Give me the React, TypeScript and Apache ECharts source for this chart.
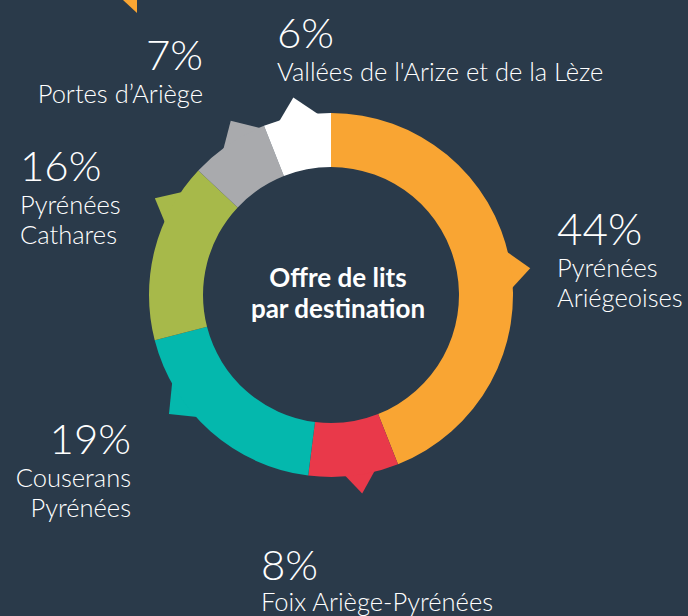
import React, { useEffect, useRef } from "react";
import * as echarts from "echarts";

// ---- data ----
const NAMES = [
  "Pyrénées Ariégeoises",
  "Foix Ariège-Pyrénées",
  "Couserans Pyrénées",
  "Pyrénées Cathares",
  "Portes d’Ariège",
  "Vallées de l'Arize et de la Lèze",
];
const LABEL_LINES = [
  ["Pyrénées", "Ariégeoises"],
  ["Foix Ariège-Pyrénées"],
  ["Couserans", "Pyrénées"],
  ["Pyrénées", "Cathares"],
  ["Portes d’Ariège"],
  ["Vallées de l'Arize et de la Lèze"],
];
const VALUES = [44, 8, 19, 16, 7, 6];
const CENTER_TITLE = ["Offre de lits", "par destination"];

// ---- style ----
const COLORS = ["#f9a533", "#e9394a", "#04b8ad", "#a7b94a", "#a9aaad", "#ffffff"];
const BG = "#2a3a4a";
const CX = 331;
const CY = 295;
const R_IN = 128;
const R_OUT = 182;
const TIP_R = 201;
// pointer: tip position as fraction of slice, base widths (deg) before / after tip
const POINTER = [
  { f: 0.52, w1: 6.2, w2: 5.5 },
  { f: 0.44, w1: 5.1, w2: 4.5 },
  { f: 0.68, w1: 6.1, w2: 7.6 },
  { f: 0.75, w1: 5.3, w2: 5.9 },
  { f: 0.67, w1: 6.6, w2: 7.1 },
  { f: 0.5, w1: 5.9, w2: 6.9 },
];
// label anchors: x, y centre of percentage, alignment
const LABEL_POS = [
  { x: 557, y: 228, align: "left", size: 44, gap: 39 },
  { x: 261, y: 564, align: "left", size: 42, gap: 37 },
  { x: 131, y: 438, align: "right", size: 42, gap: 39 },
  { x: 20, y: 165, align: "left", size: 42, gap: 39 },
  { x: 203, y: 54, align: "right", size: 42, gap: 39 },
  { x: 277, y: 32, align: "left", size: 42, gap: 39 },
];
const FONT = "Lato, 'Open Sans', sans-serif";

export default function App() {
  const ref = useRef<HTMLDivElement>(null);
  useEffect(() => {
    document.body.style.margin = "0";
    document.body.style.background = BG;
    const chart = echarts.init(ref.current!, null, { renderer: "svg" });
    const total = VALUES.reduce((a, b) => a + b, 0);
    let cum = 0;
    const pointerData = VALUES.map((v, i) => {
      const s = (cum / total) * 360;
      cum += v;
      const e = (cum / total) * 360;
      return [s + POINTER[i].f * (e - s), i];
    });

    const graphics: any[] = [
      {
        type: "polygon",
        shape: { points: [[123, 0], [137, 0], [137, 13]] },
        style: { fill: COLORS[0] },
        silent: true,
      },
    ];
    VALUES.forEach((v, i) => {
      const p = LABEL_POS[i];
      graphics.push({
        type: "text",
        silent: true,
        style: {
          x: p.x,
          y: p.y,
          text: `${v}%`,
          fill: "#ffffff",
          fontFamily: FONT,
          fontWeight: 300,
          fontSize: p.size,
          align: p.align,
          verticalAlign: "middle",
        },
      });
      LABEL_LINES[i].forEach((line, k) => {
        graphics.push({
          type: "text",
          silent: true,
          style: {
            x: p.x,
            y: p.y + p.gap + k * 30,
            text: line,
            fill: "#ffffff",
            fontFamily: FONT,
            fontWeight: 300,
            fontSize: 25.5,
            align: p.align,
            verticalAlign: "middle",
          },
        });
      });
    });
    CENTER_TITLE.forEach((line, k) => {
      graphics.push({
        type: "text",
        silent: true,
        style: {
          x: 338,
          y: 277 + k * 31,
          text: line,
          fill: "#ffffff",
          fontFamily: FONT,
          fontWeight: "bold",
          fontSize: 26,
          align: "center",
          verticalAlign: "middle",
        },
      });
    });

    chart.setOption({
      animation: false,
      backgroundColor: BG,
      polar: { center: [CX, CY], radius: [0, R_OUT] },
      angleAxis: { type: "value", min: 0, max: 360, startAngle: 90, clockwise: true, show: false },
      radiusAxis: { type: "value", min: 0, max: R_OUT, show: false },
      series: [
        {
          type: "custom",
          coordinateSystem: "polar",
          silent: true,
          data: pointerData,
          renderItem: (params: any, api: any) => {
            const tip = api.value(0);
            const i = api.value(1);
            const pt = POINTER[i];
            const pts = [
              api.coord([R_OUT - 6, tip - pt.w1]),
              api.coord([R_OUT - 1, tip - pt.w1]),
              api.coord([TIP_R, tip]),
              api.coord([R_OUT - 1, tip + pt.w2]),
              api.coord([R_OUT - 6, tip + pt.w2]),
            ];
            return {
              type: "polygon",
              shape: { points: pts },
              style: { fill: COLORS[i] },
            };
          },
          z: 1,
        },
        {
          type: "pie",
          center: [CX, CY],
          radius: [R_IN, R_OUT],
          startAngle: 90,
          clockwise: true,
          silent: true,
          label: { show: false },
          labelLine: { show: false },
          itemStyle: { borderWidth: 0 },
          emphasis: { disabled: true },
          data: VALUES.map((v, i) => ({ name: NAMES[i], value: v, itemStyle: { color: COLORS[i] } })),
          z: 2,
        },
      ],
      graphic: graphics,
    });
    return () => chart.dispose();
  }, []);
  return <div ref={ref} style={{ width: 688, height: 616 }} />;
}
